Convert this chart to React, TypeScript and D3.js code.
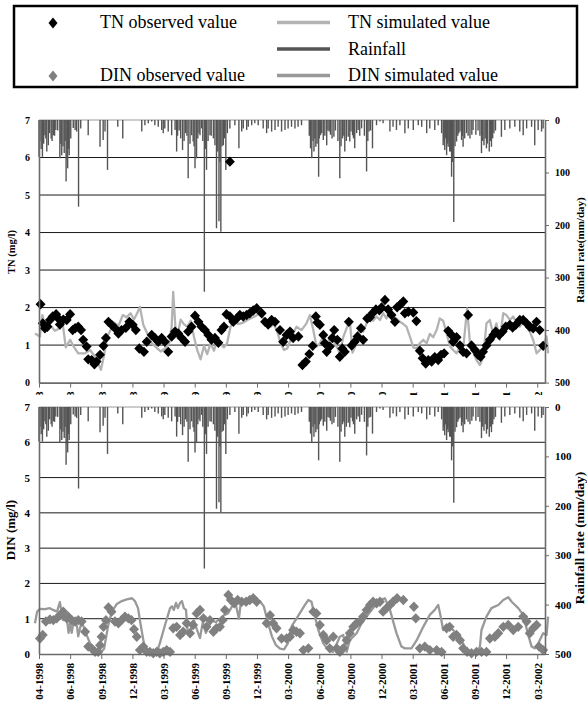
import React, { useEffect, useRef } from "react";
import * as d3 from "d3";

type Pt = [number, number];

// x is measured in tick intervals: 0 = 04-1998, 16 = 03-2002
const xTickLabels = [
  "04-1998", "06-1998", "09-1998", "12-1998", "03-1999", "06-1999",
  "09-1999", "12-1999", "03-2000", "06-2000", "09-2000", "12-2000",
  "03-2001", "06-2001", "09-2001", "12-2001", "03-2002",
];
const concTicks = [0, 1, 2, 3, 4, 5, 6, 7];
const gridValues = [1, 2, 3, 4, 5, 6];
const rainTicks = [0, 100, 200, 300, 400, 500];

// daily rainfall (mm/day), [x, value]
const rainfall: Pt[] = [
  [0.0, 70], [0.03, 40], [0.07, 55], [0.11, 70], [0.15, 45], [0.19, 29], [0.22, 35], [0.25, 60],
  [0.3, 48], [0.34, 25], [0.39, 35], [0.42, 40], [0.46, 29], [0.5, 30], [0.54, 19], [0.6, 20],
  [0.67, 73], [0.7, 45], [0.73, 67], [0.77, 50], [0.81, 63], [0.84, 40], [0.87, 117], [0.9, 75],
  [0.92, 92], [0.95, 55], [0.97, 67], [1.02, 35], [1.1, 15], [1.16, 19], [1.21, 22],
  [1.27, 165], [1.34, 16], [1.58, 29], [1.96, 51], [2.06, 38], [2.12, 22], [2.2, 95], [2.53, 13],
  [2.69, 35], [3.3, 22], [3.4, 10], [3.51, 6], [3.62, 3], [3.72, 10], [3.83, 13], [3.94, 19],
  [3.99, 25], [4.04, 16], [4.15, 22], [4.26, 29], [4.37, 19], [4.42, 60], [4.45, 30], [4.5, 20],
  [4.55, 35], [4.61, 57], [4.66, 40], [4.71, 25], [4.75, 30], [4.79, 111], [4.85, 45], [4.9, 29],
  [4.95, 41], [4.98, 50], [5.01, 92], [5.06, 73], [5.1, 35], [5.14, 25], [5.17, 29], [5.22, 16],
  [5.26, 40], [5.31, 327], [5.34, 55], [5.38, 95], [5.43, 40], [5.49, 29], [5.53, 30], [5.6, 35],
  [5.65, 48], [5.7, 206], [5.74, 60], [5.78, 193], [5.81, 80], [5.84, 213], [5.88, 50], [5.92, 48],
  [5.96, 35], [6.0, 95], [6.05, 25], [6.13, 16], [6.29, 10], [6.42, 54], [6.51, 22], [6.56, 16],
  [6.67, 19], [6.72, 13], [6.83, 10], [6.93, 6], [7.04, 10], [7.2, 16], [7.31, 25], [7.36, 16],
  [7.47, 22], [7.58, 19], [7.68, 13], [7.79, 22], [7.9, 19], [8.0, 16], [8.11, 13], [8.22, 16],
  [8.32, 13], [8.43, 10], [8.68, 30], [8.72, 54], [8.76, 73], [8.8, 40], [8.83, 60], [8.86, 35],
  [8.89, 51], [8.93, 45], [8.98, 108], [9.0, 35], [9.04, 29], [9.08, 25], [9.13, 38], [9.18, 30],
  [9.24, 48], [9.28, 20], [9.32, 22], [9.36, 28], [9.41, 35], [9.47, 32], [9.52, 20], [9.6, 40],
  [9.66, 111], [9.7, 50], [9.75, 35], [9.79, 30], [9.82, 60], [9.87, 40], [9.93, 32], [9.98, 41],
  [10.02, 22], [10.07, 29], [10.1, 35], [10.14, 54], [10.2, 25], [10.25, 19], [10.3, 30], [10.36, 16],
  [10.45, 30], [10.52, 98], [10.56, 40], [10.6, 22], [10.65, 20], [10.71, 54], [10.84, 10],
  [10.95, 3], [11.05, 6], [11.27, 22], [11.37, 13], [11.48, 19], [11.59, 10], [11.75, 25], [11.86, 16],
  [12.02, 19], [12.18, 10], [12.29, 13], [12.45, 25], [12.55, 16], [12.71, 19], [12.82, 10], [12.93, 25],
  [12.98, 48], [13.0, 40], [13.03, 57], [13.06, 35], [13.09, 67], [13.12, 45], [13.14, 51], [13.17, 40],
  [13.19, 60], [13.22, 60], [13.25, 108], [13.28, 80], [13.32, 194], [13.36, 50], [13.41, 41], [13.45, 30],
  [13.48, 25], [13.52, 22], [13.57, 38], [13.6, 30], [13.62, 51], [13.67, 35], [13.73, 25], [13.78, 30],
  [13.84, 35], [13.9, 28], [13.94, 19], [14.03, 28], [14.1, 20], [14.16, 30], [14.21, 63], [14.25, 40],
  [14.29, 48], [14.33, 35], [14.37, 54], [14.4, 45], [14.46, 60], [14.5, 40], [14.53, 51], [14.57, 35],
  [14.61, 25], [14.66, 20], [14.85, 32], [14.96, 19], [15.12, 16], [15.28, 13],
  [15.44, 22], [15.55, 29], [15.66, 16], [15.82, 13], [15.92, 48], [16.03, 19], [16.14, 22], [16.19, 16],
];

const tnObserved: Pt[] = [
  [0.05, 2.09], [0.12, 1.58], [0.19, 1.45], [0.27, 1.49], [0.35, 1.67], [0.44, 1.76], [0.55, 1.82], [0.62, 1.71],
  [0.67, 1.55], [0.78, 1.68], [0.89, 1.67], [1.0, 1.82], [1.08, 1.4], [1.16, 1.45], [1.26, 1.49], [1.35, 1.4],
  [1.42, 1.14], [1.53, 0.96], [1.58, 0.62], [1.69, 0.6], [1.78, 0.49], [1.85, 0.56], [1.96, 0.74], [2.07, 0.98],
  [2.15, 1.19], [2.23, 1.62], [2.33, 1.54], [2.44, 1.45], [2.55, 1.31], [2.65, 1.4], [2.79, 1.46], [2.9, 1.62],
  [3.01, 1.54], [3.11, 1.4], [3.22, 0.91], [3.37, 0.82], [3.46, 1.09], [3.62, 1.27], [3.72, 1.19], [3.83, 1.09],
  [3.94, 1.19], [4.04, 1.09], [4.15, 0.82], [4.26, 1.23], [4.37, 1.36], [4.47, 1.31], [4.58, 1.19], [4.69, 1.09],
  [4.79, 1.36], [4.9, 1.49], [5.01, 1.78], [5.12, 1.62], [5.22, 1.49], [5.33, 1.4], [5.44, 1.27], [5.54, 1.14],
  [5.65, 1.19], [5.76, 1.06], [5.86, 1.4], [5.94, 1.49], [6.02, 1.82], [6.13, 5.89], [6.13, 1.76], [6.24, 1.62],
  [6.35, 1.71], [6.45, 1.8], [6.56, 1.76], [6.67, 1.8], [6.77, 1.85], [6.88, 1.92], [6.99, 1.98], [7.15, 1.85],
  [7.26, 1.62], [7.36, 1.55], [7.47, 1.67], [7.58, 1.62], [7.74, 1.4], [7.84, 1.09], [7.95, 1.27], [8.06, 1.36],
  [8.16, 1.19], [8.33, 1.23], [8.46, 0.47], [8.57, 0.56], [8.68, 0.76], [8.79, 0.98], [8.89, 1.76], [8.94, 1.6],
  [9.02, 1.54], [9.13, 1.27], [9.18, 1.05], [9.24, 0.82], [9.34, 0.96], [9.42, 1.19], [9.48, 1.4], [9.58, 1.14],
  [9.66, 0.69], [9.74, 0.91], [9.82, 0.82], [9.95, 1.62], [10.04, 0.99], [10.14, 1.09], [10.23, 1.23], [10.34, 1.45],
  [10.41, 1.14], [10.54, 1.71], [10.63, 1.74], [10.71, 1.85], [10.82, 1.95], [10.93, 1.93], [11.0, 2.0], [11.11, 2.2],
  [11.21, 1.95], [11.32, 1.8], [11.43, 1.62], [11.5, 2.01], [11.59, 2.07], [11.7, 2.16], [11.75, 1.85], [11.86, 1.89],
  [12.02, 1.87], [12.12, 1.64], [12.23, 0.85], [12.32, 0.65], [12.42, 0.51], [12.5, 0.6], [12.61, 0.56], [12.71, 0.68],
  [12.82, 0.6], [12.91, 0.74], [13.01, 0.78], [13.14, 1.38], [13.25, 1.27], [13.3, 1.09], [13.41, 1.21], [13.52, 0.99],
  [13.62, 0.82], [13.73, 0.78], [13.78, 1.8], [13.89, 0.99], [14.0, 0.87], [14.1, 0.74], [14.18, 0.69], [14.26, 0.82],
  [14.37, 0.99], [14.48, 1.14], [14.59, 1.27], [14.67, 1.36], [14.78, 1.27], [14.89, 1.36], [14.99, 1.49], [15.12, 1.54],
  [15.21, 1.47], [15.31, 1.54], [15.44, 1.67], [15.55, 1.67], [15.66, 1.58], [15.76, 1.49], [15.87, 1.45], [15.98, 1.62],
  [16.08, 1.4], [16.19, 0.98],
];

const tnSimulated: Pt[] = [
  [-0.13, 1.31], [0.03, 1.23], [0.11, 1.8], [0.19, 1.49], [0.35, 1.54], [0.51, 1.38], [0.67, 1.45], [0.76, 1.58],
  [0.86, 0.94], [1.0, 1.14], [1.1, 0.98], [1.26, 0.78], [1.48, 0.78], [1.64, 0.87], [1.8, 0.69], [1.9, 0.51],
  [1.99, 0.34], [2.09, 0.73], [2.19, 1.22], [2.3, 1.4], [2.41, 1.6], [2.55, 1.51], [2.69, 1.8], [2.81, 1.74],
  [2.94, 1.85], [3.05, 1.68], [3.16, 1.86], [3.24, 2.02], [3.35, 1.54], [3.48, 1.3], [3.62, 1.05], [3.76, 0.94],
  [3.91, 0.83], [4.04, 0.91], [4.18, 1.05], [4.26, 1.49], [4.31, 2.42], [4.38, 1.49], [4.44, 1.21], [4.55, 1.68],
  [4.65, 1.56], [4.76, 1.49], [4.87, 1.65], [4.98, 1.21], [5.08, 0.87], [5.19, 0.62], [5.3, 0.98], [5.4, 0.76],
  [5.51, 1.05], [5.62, 0.85], [5.72, 1.14], [5.83, 1.03], [5.94, 0.94], [6.04, 1.05], [6.15, 1.49], [6.26, 1.67],
  [6.4, 1.56], [6.56, 1.6], [6.72, 1.68], [6.88, 1.74], [7.01, 1.8], [7.12, 1.85], [7.22, 1.68], [7.33, 1.56],
  [7.44, 1.49], [7.54, 1.56], [7.65, 1.36], [7.76, 1.05], [7.87, 0.87], [7.97, 0.91], [8.08, 1.14], [8.19, 1.36],
  [8.27, 1.49], [8.43, 1.4], [8.59, 1.58], [8.7, 1.8], [8.81, 1.4], [8.91, 0.96], [9.02, 1.05], [9.13, 1.23],
  [9.24, 0.89], [9.34, 1.23], [9.45, 1.12], [9.56, 0.96], [9.66, 0.78], [9.77, 1.21], [9.9, 1.49], [9.98, 1.67],
  [10.07, 0.8], [10.2, 1.05], [10.3, 1.49], [10.41, 1.36], [10.52, 1.58], [10.62, 1.71], [10.73, 1.65], [10.84, 1.76],
  [10.95, 1.67], [11.05, 1.85], [11.16, 1.71], [11.27, 1.85], [11.38, 1.62], [11.48, 1.71], [11.59, 1.62], [11.7, 1.56],
  [11.8, 1.49], [11.91, 1.23], [12.02, 0.94], [12.13, 0.91], [12.23, 1.05], [12.34, 1.14], [12.45, 1.05], [12.55, 1.3],
  [12.66, 1.21], [12.77, 1.4], [12.87, 1.71], [12.98, 1.65], [13.09, 1.31], [13.2, 0.96], [13.3, 0.87], [13.41, 0.78],
  [13.52, 0.96], [13.64, 1.05], [13.75, 1.98], [13.84, 1.05], [13.94, 0.82], [14.05, 0.6], [14.16, 0.47], [14.27, 0.69],
  [14.37, 1.58], [14.48, 1.67], [14.58, 1.3], [14.69, 1.58], [14.8, 1.14], [14.91, 1.85], [15.01, 1.8], [15.12, 1.67],
  [15.23, 1.76], [15.34, 1.58], [15.44, 1.49], [15.55, 1.62], [15.66, 1.49], [15.76, 1.36], [15.87, 1.14], [15.98, 0.78],
  [16.08, 0.87], [16.19, 0.96], [16.3, 1.23], [16.35, 0.78],
];

const dinObserved: Pt[] = [
  [0.03, 0.44], [0.12, 0.54], [0.22, 0.92], [0.35, 0.98], [0.46, 0.96], [0.57, 1.01], [0.67, 1.1], [0.78, 1.2],
  [0.89, 1.01], [0.94, 1.06], [1.05, 0.96], [1.16, 0.92], [1.26, 0.96], [1.37, 0.92], [1.48, 0.63], [1.58, 0.21],
  [1.69, 0.16], [1.8, 0.06], [1.9, 0.06], [1.96, 0.25], [2.01, 0.49], [2.07, 0.77], [2.15, 0.96], [2.23, 1.32],
  [2.33, 1.2], [2.44, 0.92], [2.55, 0.87], [2.65, 0.96], [2.76, 1.06], [2.87, 1.01], [2.97, 0.96], [3.05, 0.7],
  [3.14, 0.49], [3.24, 0.11], [3.35, 0.21], [3.46, 0.06], [3.56, 0.06], [3.67, 0.02], [3.78, 0.06], [3.88, 0.02],
  [3.99, 0.06], [4.1, 0.11], [4.21, 0.06], [4.31, 0.73], [4.42, 0.77], [4.53, 0.54], [4.63, 0.63], [4.74, 0.87],
  [4.85, 0.59], [4.95, 0.82], [5.06, 1.15], [5.17, 1.25], [5.28, 1.01], [5.38, 0.77], [5.49, 0.96], [5.6, 0.63],
  [5.7, 0.73], [5.81, 0.77], [5.9, 0.96], [5.97, 1.25], [6.08, 1.67], [6.16, 1.53], [6.27, 1.44], [6.38, 1.53],
  [6.51, 1.48], [6.65, 1.48], [6.77, 1.53], [6.88, 1.58], [6.99, 1.48], [7.31, 0.87], [7.42, 1.1], [7.52, 0.87],
  [7.63, 0.73], [7.79, 0.44], [7.95, 0.44], [8.06, 0.49], [8.16, 0.68], [8.27, 0.63], [8.38, 0.59], [8.49, 0.11],
  [8.65, 0.16], [8.81, 1.2], [8.91, 1.15], [9.02, 0.82], [9.13, 0.54], [9.24, 0.39], [9.34, 0.16], [9.45, 0.49],
  [9.56, 0.16], [9.66, 0.06], [9.77, 0.16], [9.88, 0.39], [9.98, 0.59], [10.09, 0.77], [10.2, 0.87], [10.3, 0.92],
  [10.41, 1.06], [10.52, 1.25], [10.63, 1.39], [10.73, 1.48], [10.84, 1.44], [10.95, 1.48], [11.05, 1.2], [11.16, 1.3],
  [11.27, 1.39], [11.37, 1.48], [11.5, 1.58], [11.7, 1.53], [12.04, 1.34], [12.1, 1.01], [12.23, 0.16], [12.39, 0.21],
  [12.55, 0.11], [12.77, 0.11], [12.93, 0.06], [13.09, 0.73], [13.19, 0.77], [13.3, 0.49], [13.41, 0.54], [13.52, 0.39],
  [13.62, 0.16], [13.75, 0.06], [13.89, 0.02], [14.05, 0.06], [14.21, 0.06], [14.37, 0.06], [14.48, 0.44], [14.64, 0.49],
  [14.75, 0.59], [14.91, 0.77], [15.07, 0.82], [15.23, 0.68], [15.39, 0.77], [15.55, 1.06], [15.66, 0.92], [15.76, 0.59],
  [15.87, 0.73], [15.98, 0.82], [16.06, 0.21], [16.19, 0.11],
];

const dinSimulated: Pt[] = [
  [-0.13, 0.87], [-0.06, 1.2], [0.03, 1.28], [0.19, 1.27], [0.35, 1.3], [0.45, 1.25], [0.58, 1.2], [0.67, 1.47],
  [0.77, 0.96], [0.9, 0.96], [0.95, 0.6], [1.0, 0.87], [1.05, 0.6], [1.12, 0.96], [1.22, 0.78], [1.26, 0.5],
  [1.37, 0.93], [1.48, 0.65], [1.64, 0.3], [1.8, 0.08], [1.96, 0.02], [2.09, 0.15], [2.22, 0.8], [2.34, 1.2],
  [2.5, 1.42], [2.66, 1.5], [2.82, 1.55], [2.99, 1.58], [3.08, 1.5], [3.18, 1.3], [3.27, 0.8], [3.37, 0.3],
  [3.47, 0.05], [3.63, 0.0], [3.76, 0.0], [3.88, 0.3], [4.04, 0.8], [4.21, 1.3], [4.27, 1.35], [4.33, 1.25],
  [4.4, 1.45], [4.46, 1.3], [4.53, 1.45], [4.59, 1.5], [4.65, 1.3], [4.72, 1.25], [4.78, 0.6], [4.85, 0.5],
  [4.91, 0.9], [4.98, 0.95], [5.07, 0.7], [5.17, 0.45], [5.26, 0.9], [5.36, 0.6], [5.46, 0.8], [5.55, 0.95],
  [5.68, 0.9], [5.81, 1.0], [5.94, 1.1], [6.07, 1.15], [6.2, 1.35], [6.32, 1.4], [6.42, 1.0], [6.48, 1.45],
  [6.61, 1.48], [6.77, 1.5], [6.93, 1.52], [7.09, 1.5], [7.22, 1.35], [7.35, 0.9], [7.48, 0.5], [7.61, 0.25],
  [7.74, 0.15], [7.87, 0.13], [7.99, 0.3], [8.12, 0.8], [8.27, 1.0], [8.54, 1.39], [8.65, 1.53], [8.75, 1.48],
  [8.86, 1.06], [8.97, 0.68], [9.13, 0.3], [9.29, 0.11], [9.45, 0.06], [9.66, 0.49], [9.77, 0.54], [9.88, 0.06],
  [9.98, 0.39], [10.2, 0.59], [10.36, 0.87], [10.52, 1.06], [10.73, 1.3], [10.95, 1.53], [11.11, 1.58], [11.27, 1.25],
  [11.48, 0.59], [11.64, 0.21], [11.75, 0.16], [11.96, 0.16], [12.13, 0.39], [12.34, 0.77], [12.55, 1.11], [12.71, 1.25],
  [12.82, 1.39], [12.9, 1.06], [12.98, 0.68], [13.14, 0.77], [13.3, 0.68], [13.46, 0.54], [13.62, 0.3], [13.73, 0.06],
  [13.89, 0.02], [14.05, 0.02], [14.16, 0.21], [14.21, 0.68], [14.37, 1.06], [14.53, 1.3], [14.75, 1.39], [14.91, 1.53],
  [15.07, 1.61], [15.18, 1.48], [15.39, 1.3], [15.55, 1.11], [15.71, 0.54], [15.82, 0.21], [15.92, 0.16], [16.03, 0.3],
  [16.19, 0.59], [16.3, 0.54], [16.35, 1.06],
];

const FONT = "Liberation Serif, Times New Roman, DejaVu Serif, serif";
const TN_SIM = "#b3b3b3";
const DIN_SIM = "#999999";
const DIN_OBS = "#808080";
const RAIN = "#555555";
const AXIS = "#6b6b6b";

const diamond = (rx: number, ry: number) => `M0,${-ry}L${rx},0L0,${ry}L${-rx},0Z`;

type Panel = {
  top: number;
  bottom: number;
  obs: Pt[];
  sim: Pt[];
  obsColor: string;
  simColor: string;
  tickSize: number;
  leftTitle: string;
  leftTitleSize: number;
  leftTitleY: number;
  rightTitle: string;
  rightTitleSize: number;
  rightTitleY: number;
  clipLabelsAt?: number;
  id: string;
};

const styleText = (sel: any, size: number, weight = "bold") =>
  sel
    .attr("font-family", null)
    .style("font-family", FONT)
    .style("font-weight", weight)
    .style("font-size", `${size}px`)
    .attr("fill", "#000");

function drawPanel(svg: any, x: d3.ScaleLinear<number, number>, p: Panel) {
  const [x0, x1] = x.range();
  const y = d3.scaleLinear().domain([0, 7]).range([p.bottom, p.top]);
  const yr = d3.scaleLinear().domain([0, 500]).range([p.top, p.bottom]);
  const g = svg.append("g");

  g.selectAll("line.grid")
    .data(gridValues)
    .join("line")
    .attr("class", "grid")
    .attr("x1", x0)
    .attr("x2", x1)
    .attr("y1", (d: number) => y(d))
    .attr("y2", (d: number) => y(d))
    .attr("stroke", "#1a1a1a")
    .attr("stroke-width", 1);

  // top edge of the plot area
  g.append("line")
    .attr("x1", x0).attr("x2", x1)
    .attr("y1", p.top).attr("y2", p.top)
    .attr("stroke", "#9a9a9a").attr("stroke-width", 1);

  // rainfall hangs from the top
  g.append("g")
    .selectAll("line")
    .data(rainfall)
    .join("line")
    .attr("x1", (d: Pt) => x(d[0]))
    .attr("x2", (d: Pt) => x(d[0]))
    .attr("y1", yr(0))
    .attr("y2", (d: Pt) => yr(d[1]))
    .attr("stroke", RAIN)
    .attr("stroke-width", 1.4);

  const line = d3.line<Pt>().x((d) => x(d[0])).y((d) => y(d[1]));
  g.append("path")
    .datum(p.sim)
    .attr("d", line)
    .attr("fill", "none")
    .attr("stroke", p.simColor)
    .attr("stroke-width", 2.3)
    .attr("stroke-linejoin", "round");

  g.append("g")
    .selectAll("path")
    .data(p.obs)
    .join("path")
    .attr("d", diamond(5, 5.2))
    .attr("transform", (d: Pt) => `translate(${x(d[0])},${y(d[1])})`)
    .attr("fill", p.obsColor);

  // left axis
  const la = g.append("g")
    .attr("transform", `translate(${x0},0)`)
    .call(d3.axisLeft(y).tickValues(concTicks).tickFormat(d3.format("d")).tickSize(0).tickPadding(9));
  la.select(".domain").attr("stroke", AXIS).attr("stroke-width", 1.6);
  styleText(la.selectAll("text"), p.tickSize);

  // right axis (rainfall)
  const ra = g.append("g")
    .attr("transform", `translate(${x1},0)`)
    .call(d3.axisRight(yr).tickValues(rainTicks).tickSize(4).tickSizeOuter(0).tickPadding(6));
  ra.select(".domain").attr("stroke", AXIS).attr("stroke-width", 1.6);
  ra.selectAll("line").attr("stroke", AXIS);
  styleText(ra.selectAll("text"), p.tickSize);

  // bottom axis; the top panel's labels are hidden under the lower panel
  const holder = g.append("g");
  if (p.clipLabelsAt !== undefined) {
    svg.append("clipPath")
      .attr("id", `clip-${p.id}`)
      .append("rect")
      .attr("x", 0)
      .attr("y", 0)
      .attr("width", 587)
      .attr("height", p.clipLabelsAt);
    holder.attr("clip-path", `url(#clip-${p.id})`);
  }
  const ba = holder.append("g")
    .attr("transform", `translate(0,${p.bottom})`)
    .call(
      d3.axisBottom(x)
        .tickValues(d3.range(xTickLabels.length))
        .tickSize(5)
        .tickSizeOuter(0)
        .tickFormat((d: any) => xTickLabels[d as number])
    );
  ba.select(".domain").attr("stroke", AXIS).attr("stroke-width", 1.6);
  ba.selectAll("line").attr("stroke", AXIS);
  styleText(ba.selectAll("text"), 11)
    .attr("text-anchor", "end")
    .attr("transform", "rotate(-90)")
    .attr("x", -9)
    .attr("y", 0)
    .attr("dy", "0.35em");

  styleText(
    g.append("text")
      .attr("transform", `translate(15,${p.leftTitleY}) rotate(-90)`)
      .attr("text-anchor", "middle"),
    p.leftTitleSize
  ).text(p.leftTitle);

  styleText(
    g.append("text")
      .attr("transform", `translate(584,${p.rightTitleY}) rotate(-90)`)
      .attr("text-anchor", "middle"),
    p.rightTitleSize
  ).text(p.rightTitle);
}

function drawLegend(svg: any) {
  const g = svg.append("g");
  g.append("rect")
    .attr("x", 14).attr("y", 6).attr("width", 563).attr("height", 81)
    .attr("fill", "#fff").attr("stroke", "#000").attr("stroke-width", 2.5);

  const left = [
    { label: "TN observed value", color: "#000", y: 28 },
    { label: "DIN observed value", color: DIN_OBS, y: 81 },
  ];
  left.forEach((d) => {
    g.append("path").attr("d", diamond(4.5, 5.5))
      .attr("transform", `translate(53,${d.y - 5})`).attr("fill", d.color);
    styleText(g.append("text").attr("x", 100).attr("y", d.y), 18, "normal").text(d.label);
  });

  const right = [
    { label: "TN simulated value", color: TN_SIM, y: 28 },
    { label: "Rainfall", color: RAIN, y: 54.5 },
    { label: "DIN simulated value", color: DIN_SIM, y: 81 },
  ];
  right.forEach((d) => {
    g.append("line").attr("x1", 277).attr("x2", 330)
      .attr("y1", d.y - 5.5).attr("y2", d.y - 5.5)
      .attr("stroke", d.color).attr("stroke-width", 3.5);
    styleText(g.append("text").attr("x", 348).attr("y", d.y), 18, "normal").text(d.label);
  });
}

export default function App() {
  const ref = useRef<SVGSVGElement>(null);

  useEffect(() => {
    const svg = d3.select(ref.current);
    svg.selectAll("*").remove();
    const x = d3.scaleLinear().domain([0, 16.25]).range([39, 545]);

    drawLegend(svg);
    drawPanel(svg, x, {
      id: "tn",
      top: 120,
      bottom: 382.6,
      obs: tnObserved,
      sim: tnSimulated,
      obsColor: "#000",
      simColor: TN_SIM,
      tickSize: 10,
      leftTitle: "TN (mg/l)",
      leftTitleSize: 10.5,
      leftTitleY: 252,
      rightTitle: "Rainfall rate(mm/day)",
      rightTitleSize: 11,
      rightTitleY: 250,
      clipLabelsAt: 395,
    });
    drawPanel(svg, x, {
      id: "din",
      top: 407,
      bottom: 654,
      obs: dinObserved,
      sim: dinSimulated,
      obsColor: DIN_OBS,
      simColor: DIN_SIM,
      tickSize: 11,
      leftTitle: "DIN (mg/l)",
      leftTitleSize: 13,
      leftTitleY: 530,
      rightTitle: "Rainfall rate (mm/day)",
      rightTitleSize: 13.5,
      rightTitleY: 538,
    });
  }, []);

  return (
    <div style={{ position: "absolute", left: 0, top: 0 }}>
      <svg
        ref={ref}
        width={587}
        height={702}
        style={{ display: "block", background: "#fff", fontFamily: FONT }}
      />
    </div>
  );
}
